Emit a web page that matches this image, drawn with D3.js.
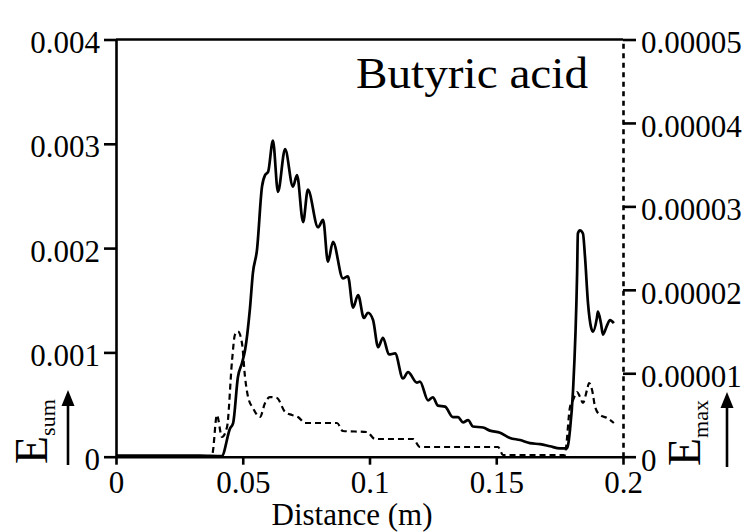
<!DOCTYPE html>
<html><head><meta charset="utf-8">
<script src="https://cdn.jsdelivr.net/npm/d3@7/dist/d3.min.js"></script>
<style>body{margin:0;background:#fff}svg{display:block}</style>
</head><body>
<svg id="c" width="747" height="532"></svg>
<script>
// E_sum (left axis), distance in m
const sumX = [0,0.0331,0.0417,0.045,0.0462,0.0481,0.0497,0.0509,0.0528,0.054,0.0556,0.0576,0.0588,0.06,0.0619,0.0639,0.0667,0.0698,0.0714,0.0738,0.0757,0.0797,0.0817,0.0836,0.0856,0.0895,0.0915,0.0935,0.0955,0.0978,0.0994,0.1014,0.1034,0.1053,0.1077,0.1101,0.1132,0.1152,0.1187,0.1199,0.1231,0.125,0.127,0.1298,0.1329,0.1349,0.1369,0.1389,0.1408,0.1448,0.1475,0.1515,0.1554,0.1594,0.1633,0.1673,0.1712,0.1751,0.1779,0.1791,0.1803,0.1819,0.1822,0.183,0.1842,0.185,0.1862,0.1874,0.1882,0.1897,0.1901,0.1913,0.1921,0.1937,0.1949,0.1964];
const sumY = [0.00001,0.00001,0.000005,0.000272,0.000323,0.000764,0.000898,0.00102,0.00141,0.00176,0.00198,0.00259,0.0027,0.00273,0.00303,0.00254,0.00295,0.00259,0.0027,0.00225,0.00256,0.0022,0.00227,0.00187,0.00206,0.00171,0.00173,0.00143,0.00155,0.00133,0.00138,0.00131,0.00105,0.00114,0.00098,0.00099,0.00075,0.00081,0.00071,0.00072,0.00054,0.00057,0.00049,0.00048,0.00038,0.00038,0.00033,0.00035,0.00029,0.00028,0.00025,0.00023,0.00018,0.00016,0.00013,0.00012,0.0001,0.00008,0.00008,0.00026,0.00064,0.00176,0.00214,0.00217,0.00214,0.00192,0.00147,0.00124,0.0012,0.00133,0.00139,0.00128,0.00117,0.00126,0.00131,0.00128];
// E_max (right axis)
const maxX = [0,0.0379,0.0383,0.0398,0.0418,0.0438,0.0458,0.0469,0.0481,0.0497,0.0509,0.0521,0.054,0.0568,0.0588,0.0607,0.0635,0.0667,0.0694,0.0718,0.0746,0.0872,0.0895,0.099,0.1022,0.1172,0.1199,0.1507,0.1527,0.1771,0.1775,0.1791,0.1803,0.1819,0.183,0.1842,0.1858,0.1866,0.1878,0.189,0.1909,0.1937,0.1964];
const maxY = [0,0,8.0e-7,5.0e-6,2.36e-6,3.56e-6,1.16e-5,1.46e-5,1.50e-5,1.36e-5,9.55e-6,7.15e-6,5.84e-6,4.76e-6,6.44e-6,7.15e-6,7.03e-6,5.36e-6,5.0e-6,4.76e-6,4.04e-6,4.04e-6,3.08e-6,2.96e-6,2.12e-6,2.12e-6,1.16e-6,1.16e-6,2.0e-7,2.0e-7,1.0e-6,5.96e-6,6.8e-6,7.75e-6,7.2e-6,6.44e-6,8.0e-6,8.83e-6,8.0e-6,5.96e-6,5.0e-6,4.64e-6,4.04e-6];
const xTicks = [0,0.05,0.1,0.15,0.2];
const xTickLabels = ["0","0.05","0.1","0.15","0.2"];
const leftTicks = [0,0.001,0.002,0.003,0.004];
const leftTickLabels = ["0","0.001","0.002","0.003","0.004"];
const rightTicks = [0,0.00001,0.00002,0.00003,0.00004,0.00005];
const rightTickLabels = ["0","0.00001","0.00002","0.00003","0.00004","0.00005"];
const title = "Butyric acid";
const xTitle = "Distance (m)";

const FONT = '"Liberation Serif"';
const svg = d3.select("#c");
const L = 116, R = 623, T = 39.5, B = 456.7;
const x = d3.scaleLinear().domain([0,0.2]).range([L,R]);
const yL = d3.scaleLinear().domain([0,0.004]).range([B,T]);
const yR = d3.scaleLinear().domain([0,0.00005]).range([B,T]);

function styleAxis(g){
  g.attr("font-family",null).attr("font-size",null);
  g.selectAll("path.domain").attr("stroke","#000").attr("stroke-width",2.6);
  g.selectAll(".tick line").attr("stroke","#000").attr("stroke-width",2.6);
  g.selectAll(".tick text").style("font-family",FONT).attr("font-size",31).attr("fill","#000");
}

// top border
svg.append("line").attr("x1",x(0)).attr("x2",x(0.2)).attr("y1",yL(0.004)).attr("y2",yL(0.004))
  .attr("stroke","#000").attr("stroke-width",2.6);

// bottom axis
const gx = svg.append("g").attr("transform",`translate(0,${B})`)
  .call(d3.axisBottom(x).tickValues(xTicks).tickFormat((d,i)=>xTickLabels[i]).tickSize(8).tickSizeOuter(0).tickPadding(6));
styleAxis(gx);
gx.selectAll(".tick text").attr("dy","0.71em").attr("y",14);

// left axis
const gl = svg.append("g").attr("transform",`translate(${L},0)`)
  .call(d3.axisLeft(yL).tickValues(leftTicks).tickFormat((d,i)=>leftTickLabels[i]).tickSize(12).tickSizeOuter(0).tickPadding(4));
styleAxis(gl);
gl.selectAll(".tick text").attr("dy","0.42em");

// right axis (dashed)
const gr = svg.append("g").attr("transform",`translate(${R},0)`)
  .call(d3.axisRight(yR).tickValues(rightTicks).tickFormat((d,i)=>rightTickLabels[i]).tickSize(13).tickSizeOuter(0).tickPadding(5));
styleAxis(gr);
gr.select("path.domain").attr("stroke-dasharray","5,4.5");
gr.selectAll(".tick text").attr("dy","0.43em");

// curves
const sumData = sumX.map((d,i)=>[d,sumY[i]]);
const maxData = maxX.map((d,i)=>[d,maxY[i]]);
svg.append("path").datum(maxData)
  .attr("d", d3.line().x(d=>x(d[0])).y(d=>yR(d[1])).curve(d3.curveMonotoneX))
  .attr("fill","none").attr("stroke","#000").attr("stroke-width",2.2).attr("stroke-dasharray","6,4");
svg.append("path").datum(sumData)
  .attr("d", d3.line().x(d=>x(d[0])).y(d=>yL(d[1])).curve(d3.curveMonotoneX))
  .attr("fill","none").attr("stroke","#000").attr("stroke-width",2.7);

// title
svg.append("text").attr("x",356).attr("y",88.3)
  .attr("textLength",232).attr("lengthAdjust","spacingAndGlyphs")
  .style("font-family",FONT).attr("font-size",45).text(title);

// x title
svg.append("text").attr("x",352).attr("y",525).attr("text-anchor","middle")
  .style("font-family",FONT).attr("font-size",31).text(xTitle);

// rotated E labels with arrows
function eLabel(bx, by, sub){
  const t = svg.append("text").attr("transform",`translate(${bx},${by}) rotate(-90)`)
    .style("font-family",FONT).attr("font-size",46);
  t.append("tspan").text("E");
  t.append("tspan").attr("font-size",22).attr("dy",8).text(sub);
}
eLabel(47,464,"sum");
eLabel(700,466,"max");

function arrow(ax, y0, y1){
  svg.append("line").attr("x1",ax).attr("x2",ax).attr("y1",y0).attr("y2",y1+12)
    .attr("stroke","#000").attr("stroke-width",2.6);
  svg.append("path").attr("d",`M${ax},${y1} L${ax-6.5},${y1+16} L${ax+6.5},${y1+16} Z`).attr("fill","#000");
}
arrow(68,465,390);
arrow(727,467,392);
</script>
</body></html>
